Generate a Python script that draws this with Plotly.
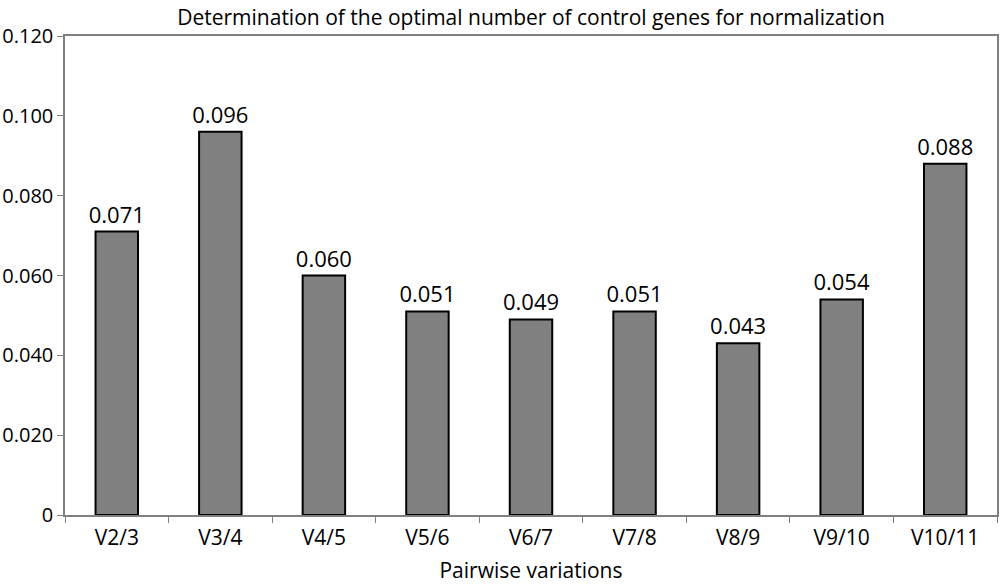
import plotly.graph_objects as go

categories = ["V2/3", "V3/4", "V4/5", "V5/6", "V6/7", "V7/8", "V8/9", "V9/10", "V10/11"]
values = [0.071, 0.096, 0.060, 0.051, 0.049, 0.051, 0.043, 0.054, 0.088]
y_ticks = [0, 0.02, 0.04, 0.06, 0.08, 0.10, 0.12]
y_ticklabels = ["0", "0.020", "0.040", "0.060", "0.080", "0.100", "0.120"]

fig = go.Figure(go.Bar(
    x=categories, y=values,
    marker=dict(color="#808080", line=dict(color="black", width=2)),
    width=0.41,
    text=[f"{v:.3f}" for v in values],
    textposition="outside",
    constraintext="none",
    textfont=dict(size=22, color="black"),
    cliponaxis=False,
))

fig.update_layout(
    width=1000, height=584,
    margin=dict(l=65, r=3, t=36, b=69, autoexpand=False),
    paper_bgcolor="white", plot_bgcolor="white",
    font=dict(family="Open Sans", color="black"),
    title=dict(text="Determination of the optimal number of control genes for normalization",
               x=0.531, xanchor="center", y=0.982, yanchor="top", font=dict(size=21)),
    showlegend=False,
    bargap=0.59,
)
fig.update_xaxes(
    showline=True, linecolor="#808080", linewidth=1.5, mirror=True,
    ticks="outside", tickson="boundaries", ticklen=6, tickcolor="#808080",
    tickfont=dict(size=21), automargin=False, ticklabelstandoff=3,
    title=dict(text="Pairwise variations", font=dict(size=21), standoff=14),
)
fig.update_yaxes(
    range=[0, 0.12], tickvals=y_ticks, ticktext=y_ticklabels,
    showline=True, linecolor="#808080", linewidth=1.5, mirror=True,
    ticks="outside", ticklen=6, tickcolor="#808080",
    showgrid=False, zeroline=False, automargin=False,
    tickfont=dict(size=20),
)

fig.write_html(
    "out.html",
    config={"displayModeBar": False},
    post_script="document.body.style.margin='0';document.body.style.padding='0';document.body.style.overflow='hidden';",
)
